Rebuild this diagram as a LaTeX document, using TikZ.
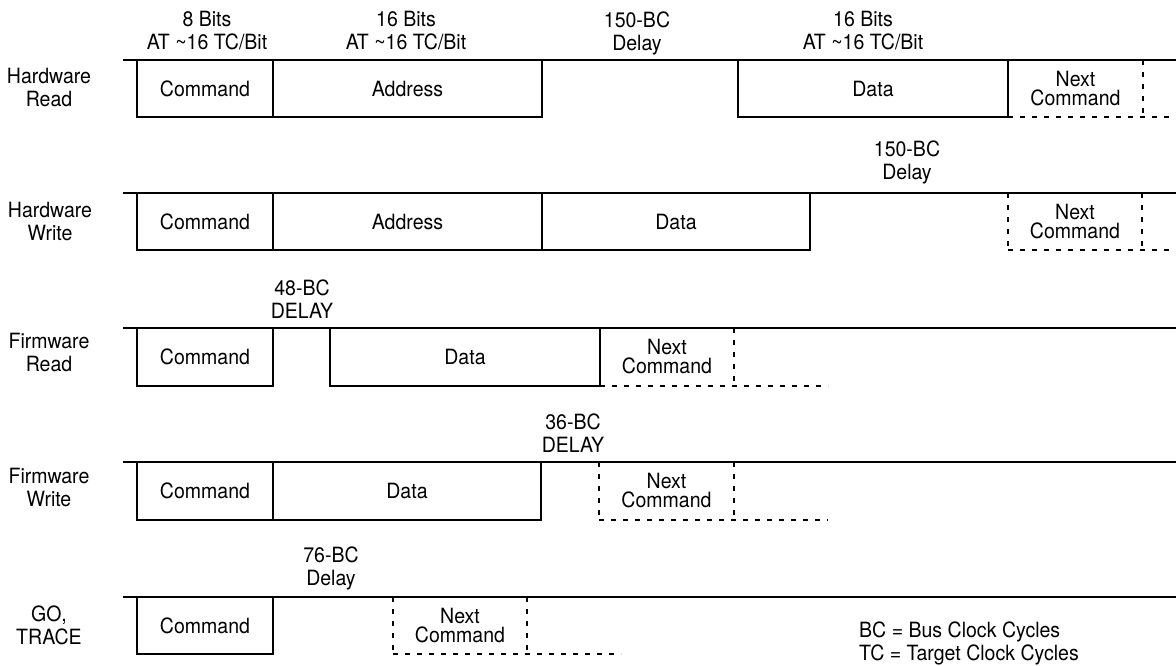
\documentclass[tikz,border=0pt]{standalone}
\usepackage{fontspec}
\setmainfont{TeX Gyre Heros}[FakeStretch=0.93]
\newcommand\lblfont{\fontsize{21}{23}\selectfont}
\newcommand\nextfont{\fontsize{21}{19}\selectfont}
\begin{document}
\begin{tikzpicture}[x=1pt,y=-1pt,
  busline/.style={line width=2.8pt},
  field/.style={draw, line width=2.8pt, inner sep=0pt, outer sep=0pt, anchor=north west, font=\lblfont, align=center},
  nextbox/.style={inner sep=0pt, outer sep=0pt, anchor=north west, font=\nextfont, align=center},
  dashline/.style={line width=1.6pt, dash pattern=on 5pt off 7pt},
  lbl/.style={inner sep=0pt, font=\lblfont, align=center}]

\useasboundingbox (0,0) rectangle (1176,665);

% ---------- Row 1: Hardware Read ----------
\coordinate (r1s) at (123,60); \coordinate (r1e) at (1176,60);
\draw[busline] (r1s) -- (r1e);
\node[field, minimum width=136pt, minimum height=57pt] (r1cmd) at (137,60) {Command};
\node[field, minimum width=269pt, minimum height=57pt] (r1adr) at (273,60) {Address};
\node[field, minimum width=270pt, minimum height=57pt] (r1dat) at (738,60) {Data};
\node[nextbox, minimum width=135pt, minimum height=57pt] (r1nxt) at (1008,60) {Next\\Command};
\coordinate (r1de) at (1176,117);
\draw[dashline] (r1nxt.north east) -- (r1nxt.south east);
\draw[dashline] (r1nxt.south west) -- (r1de);
\node[lbl] (r1lbl) at (49,87) {Hardware\\Read};
\node[lbl] (t1) at (207,31) {8 Bits\\AT \textasciitilde 16 TC/Bit};
\node[lbl] (t2) at (406,31) {16 Bits\\AT \textasciitilde 16 TC/Bit};
\node[lbl] (t3) at (637,33) {150-BC\\Delay};
\node[lbl] (t4) at (863,31) {16 Bits\\AT \textasciitilde 16 TC/Bit};

% ---------- Row 2: Hardware Write ----------
\coordinate (r2s) at (123,193); \coordinate (r2e) at (1176,193);
\draw[busline] (r2s) -- (r2e);
\node[field, minimum width=136pt, minimum height=57pt] (r2cmd) at (137,193) {Command};
\node[field, minimum width=269pt, minimum height=57pt] (r2adr) at (273,193) {Address};
\node[field, minimum width=268pt, minimum height=57pt] (r2dat) at (542,193) {Data};
\node[nextbox, minimum width=134pt, minimum height=57pt] (r2nxt) at (1008,193) {Next\\Command};
\coordinate (r2de) at (1176,250);
\draw[dashline] (r2nxt.north west) -- (r2nxt.south west);
\draw[dashline] (r2nxt.north east) -- (r2nxt.south east);
\draw[dashline] (r2nxt.south west) -- (r2de);
\node[lbl] (r2lbl) at (50,221) {Hardware\\Write};
\node[lbl] (r2d) at (907,162) {150-BC\\Delay};

% ---------- Row 3: Firmware Read ----------
\coordinate (r3s) at (123,328); \coordinate (r3e) at (1176,328);
\draw[busline] (r3s) -- (r3e);
\node[field, minimum width=136pt, minimum height=58pt] (r3cmd) at (137,328) {Command};
\node[field, minimum width=270pt, minimum height=58pt] (r3dat) at (330,328) {Data};
\node[nextbox, minimum width=134pt, minimum height=58pt] (r3nxt) at (600,328) {Next\\Command};
\coordinate (r3de) at (828,386);
\draw[dashline] (r3nxt.north east) -- (r3nxt.south east);
\draw[dashline] (r3nxt.south west) -- (r3de);
\node[lbl] (r3lbl) at (49,352) {Firmware\\Read};
\node[lbl] (r3d) at (302,299) {48-BC\\DELAY};

% ---------- Row 4: Firmware Write ----------
\coordinate (r4s) at (123,462); \coordinate (r4e) at (1176,462);
\draw[busline] (r4s) -- (r4e);
\node[field, minimum width=136pt, minimum height=58pt] (r4cmd) at (137,462) {Command};
\node[field, minimum width=268pt, minimum height=58pt] (r4dat) at (273,462) {Data};
\node[nextbox, minimum width=135pt, minimum height=58pt] (r4nxt) at (599,462) {Next\\Command};
\coordinate (r4de) at (828,520);
\draw[dashline] (r4nxt.north west) -- (r4nxt.south west);
\draw[dashline] (r4nxt.north east) -- (r4nxt.south east);
\draw[dashline] (r4nxt.south west) -- (r4de);
\node[lbl] (r4lbl) at (49,487) {Firmware\\Write};
\node[lbl] (r4d) at (573,433) {36-BC\\DELAY};

% ---------- Row 5: GO, TRACE ----------
\coordinate (r5s) at (123,597); \coordinate (r5e) at (1176,597);
\draw[busline] (r5s) -- (r5e);
\node[field, minimum width=136pt, minimum height=57pt] (r5cmd) at (137,597) {Command};
\node[nextbox, minimum width=134pt, minimum height=57pt] (r5nxt) at (393,597) {Next\\Command};
\coordinate (r5de) at (621,654);
\draw[dashline] (r5nxt.north west) -- (r5nxt.south west);
\draw[dashline] (r5nxt.north east) -- (r5nxt.south east);
\draw[dashline] (r5nxt.south west) -- (r5de);
\node[lbl] (r5lbl) at (49,625) {GO,\\TRACE};
\node[lbl] (r5d) at (331,568) {76-BC\\Delay};

% ---------- Legend ----------
\node[lbl, align=left, anchor=west] (legend) at (859,643) {BC = Bus Clock Cycles\\TC = Target Clock Cycles};

\end{tikzpicture}
\end{document}
